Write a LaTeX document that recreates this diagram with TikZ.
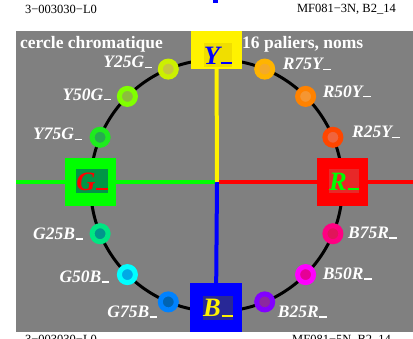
\documentclass[tikz,border=0pt]{standalone}
\usepackage{fontspec}
\setmainfont{Liberation Serif}
\usetikzlibrary{calc}

\definecolor{bggray}{RGB}{128,128,128}
\definecolor{oR25Y}{RGB}{255,70,0}    \definecolor{iR25Y}{RGB}{240,100,60}
\definecolor{oR50Y}{RGB}{255,130,0}   \definecolor{iR50Y}{RGB}{245,150,50}
\definecolor{oR75Y}{RGB}{255,180,0}   \definecolor{iR75Y}{RGB}{245,170,40}
\definecolor{oY25G}{RGB}{204,240,0}   \definecolor{iY25G}{RGB}{200,200,60}
\definecolor{oY50G}{RGB}{128,255,0}   \definecolor{iY50G}{RGB}{140,190,60}
\definecolor{oY75G}{RGB}{30,235,30}   \definecolor{iY75G}{RGB}{40,170,80}
\definecolor{oG25B}{RGB}{0,230,130}   \definecolor{iG25B}{RGB}{0,150,140}
\definecolor{oG50B}{RGB}{0,255,255}   \definecolor{iG50B}{RGB}{0,170,230}
\definecolor{oG75B}{RGB}{0,130,255}   \definecolor{iG75B}{RGB}{0,100,180}
\definecolor{oB25R}{RGB}{130,0,255}   \definecolor{iB25R}{RGB}{140,40,160}
\definecolor{oB50R}{RGB}{255,0,255}   \definecolor{iB50R}{RGB}{230,0,150}
\definecolor{oB75R}{RGB}{255,0,130}   \definecolor{iB75R}{RGB}{225,20,90}
\definecolor{inY}{RGB}{240,222,0}
\definecolor{inG}{RGB}{0,150,70}
\definecolor{inR}{RGB}{232,40,40}
\definecolor{inB}{RGB}{40,40,150}

\newcommand\lowdash{\kern0.03em\rule[-0.01em]{0.42em}{0.08em}}

\begin{document}
\begin{tikzpicture}
  [x=1pt,y=-1pt,
   lab/.style={text=white,inner sep=0pt,font=\fontsize{17.5}{20}\selectfont\bfseries\itshape},
   head/.style={text=white,inner sep=0pt,font=\fontsize{17.5}{20}\selectfont\bfseries},
   small/.style={inner sep=0pt,font=\fontsize{12.5}{14}\selectfont},
   dot/.style={circle,draw=o#1,fill=i#1,line width=5pt,minimum size=16pt,inner sep=0pt},
   box/.style={fill=#1,minimum width=51pt,minimum height=48pt,inner sep=0pt},
   big/.style={inner sep=0pt,minimum width=26pt,minimum height=24pt,
     font=\fontsize{26.5}{28}\selectfont\bfseries\itshape},
   axis/.style={line width=4pt}]
  \useasboundingbox (0,0) rectangle (413,339);
  \fill[bggray] (16,31) rectangle (413,332.5);
  \fill[blue] (213,0) rectangle (218,3);

  \node[small,anchor=west] (hl) at (25,9) {3−003030−L0};
  \node[small,anchor=east] (hr) at (396,9) {MF081−3N, B2\_14};
  \node[small,anchor=north west] (fl) at (25,335) {3−003030−L0};
  \node[small,anchor=north west] (fr) at (292,335) {MF081−5N, B2\_14};

  \coordinate (o) at (216.5,185.5);
  \coordinate (x) at (217,182);
  \coordinate (xl) at (16,182);
  \coordinate (xr) at (413,182);
  \draw[line width=3pt] (o) circle[radius=126pt];

  \node[box=yellow,minimum height=38pt] (Y) at (216.5,50) {};
  \node[box=green] (G) at (90.5,182) {};
  \node[box=red] (R) at (342.5,182) {};
  \node[box=blue,minimum height=49pt] (B) at (216,307.5) {};

  \draw[axis,green] (xl) -- (x);
  \draw[axis,red] (x) -- (xr);
  \draw[axis,blue] (x) -- (B);
  \draw[axis,yellow] (Y) -- (x);
  \fill[yellow] (Y.south west) rectangle (Y.north east);
  \fill[green] (G.south west) rectangle (G.north east);
  \fill[red] (R.south west) rectangle (R.north east);
  \fill[blue] (B.south west) rectangle (B.north east);

  \node[big,fill=inY,text=blue] (yl) at (218,55.5) {Y\lowdash};
  \node[big,fill=inG,text=red] (gl) at (92,181.5) {G\lowdash};
  \node[big,fill=inR,text=green] (rl) at (344,181.5) {R\lowdash};
  \node[big,fill=inB,text=yellow] (bl) at (218,308) {B\lowdash};

  \node[head,anchor=west] (t1) at (20,44) {cercle chromatique};
  \node[head,anchor=west] (t2) at (242,44) {16 paliers, noms};

  \foreach \a/\nm/\dx/\dy/\an in {22.5/R25Y/19/-5/west, 45/R50Y/17/-5/west,
      67.5/R75Y/18/-5/west, 112.5/Y25G/-16/-7/east, 135/Y50G/-16/-2/east,
      157.5/Y75G/-18/-3/east, 202.5/G25B/-17/0/east, 225/G50B/-18/2/east,
      247.5/G75B/-11/10/east, 292.5/B25R/13/10/west, 315/B50R/17/-1/west,
      337.5/B75R/15/-1/west}
  {
    \node[dot=\nm] (d\nm) at ($(o)+({126*cos(\a)},{-126*sin(\a)})$) {};
    \node[lab,anchor=\an] (l\nm) at ($(d\nm)+(\dx,\dy)$) {\nm\lowdash};
  }
\end{tikzpicture}
\end{document}
